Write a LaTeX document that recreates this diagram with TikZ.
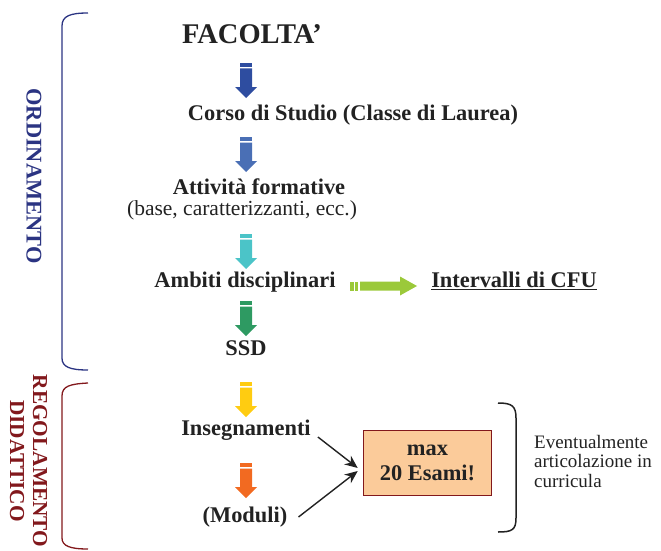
\documentclass[tikz,border=0pt]{standalone}
\usepackage{fontspec}
\setmainfont{Liberation Serif}
\usepackage{tikz}
\usetikzlibrary{positioning,arrows.meta}
\definecolor{ordblue}{RGB}{43,52,130}
\definecolor{regred}{RGB}{130,24,28}
\definecolor{arblue}{RGB}{46,77,160}
\definecolor{arblueb}{RGB}{74,111,181}
\definecolor{arcyan}{RGB}{75,196,200}
\definecolor{argreen}{RGB}{46,154,98}
\definecolor{arlime}{RGB}{155,201,58}
\definecolor{aryellow}{RGB}{255,204,17}
\definecolor{arorange}{RGB}{242,106,33}
\definecolor{boxfill}{RGB}{251,203,154}
\definecolor{txt}{RGB}{34,34,34}

\tikzset{
  big/.style={font=\fontsize{22.4}{24}\selectfont\bfseries, text=txt, inner sep=1pt},
  plain/.style={font=\fontsize{21.5}{23}\selectfont, text=txt, inner sep=1pt},
  sdown/.pic={
    \fill (-6,0) rectangle (6,4);
    \fill (-6,5.5) -- (6,5.5) -- (6,24) -- (11,24) -- (0,35) -- (-11,24) -- (-6,24) -- cycle;
  },
  sright/.pic={
    \fill (0,-4.5) rectangle (4,4.5);
    \fill (5,-4.5) rectangle (8,4.5);
    \fill (10,-4.5) -- (50,-4.5) -- (50,-9.5) -- (67,0) -- (50,9.5) -- (50,4.5) -- (10,4.5) -- cycle;
  }
}

\begin{document}
\begin{tikzpicture}[x=1pt,y=-1pt]
\useasboundingbox (0,0) rectangle (661,551);

% Levels
\node[big, font=\fontsize{28.5}{30}\selectfont\bfseries] (fac) at (252,34) {FACOLTA'};
\node[big] (cds) at (353,115) {Corso di Studio (Classe di Laurea)};
\node[big] (att) at (259,187) {Attività formative};
\node[plain] (attsub) at (242,210) {(base, caratterizzanti, ecc.)};
\node[big] (amb) at (245,282) {Ambiti disciplinari};
\node[big] (cfu) at (514,281) {\underline{Intervalli di CFU}};
\node[big] (ssd) at (246,348) {SSD};
\node[big] (ins) at (246,430) {Insegnamenti};
\node[big] (mod) at (245,517) {(Moduli)};

% Striped arrows
\pic[fill=arblue] at (246,63) {sdown};
\pic[fill=arblueb] at (246,137) {sdown};
\pic[fill=arcyan] at (246,234) {sdown};
\pic[fill=argreen] at (246,301) {sdown};
\pic[fill=aryellow] at (246,382) {sdown};
\pic[fill=arorange] at (246,463) {sdown};
\pic[fill=arlime] at (350,286) {sright};

% Max box
\node[big, draw=regred, line width=1.5pt, fill=boxfill, minimum width=128pt,
  minimum height=65pt, align=center] (box) at (427.5,463) {max\\[1pt]20 Esami!};
\draw[-{Stealth[length=13pt,width=11pt]}, line width=1.4pt, txt]
  ([shift={(6,7)}]ins.east) -- ([shift={(-5,5)}]box.west);
\draw[-{Stealth[length=13pt,width=11pt]}, line width=1.4pt, txt]
  ([shift={(10,0)}]mod.east) -- ([shift={(-5,8)}]box.west);

% Curricula
\draw[line width=1.5pt, txt] (498,403) .. controls (512,403) and (516,406) .. (516,418)
  -- (516,518) .. controls (516,530) and (512,532) .. (498,532);
\node[plain, align=left, font=\fontsize{19}{19.5}\selectfont] (note) at (593,461)
  {Eventualmente\\articolazione in\\curricula};

% Side brackets
\draw[ordblue, line width=1.3pt] (88,13) .. controls (70,13) and (62,16) .. (62,26)
  -- (62,358) .. controls (62,367) and (70,370) .. (88,370);
\draw[regred, line width=1.3pt] (88,383) .. controls (70,384) and (62,386) .. (62,396)
  -- (62,538) .. controls (62,546) and (70,549) .. (88,549);
\node[big, text=ordblue, rotate=-90] (ord) at (34,176) {ORDINAMENTO};
\node[big, text=regred, rotate=-90, align=center, font=\fontsize{21.3}{23}\selectfont\bfseries]
  (reg) at (28.5,461) {REGOLAMENTO\\DIDATTICO};
\end{tikzpicture}
\end{document}
